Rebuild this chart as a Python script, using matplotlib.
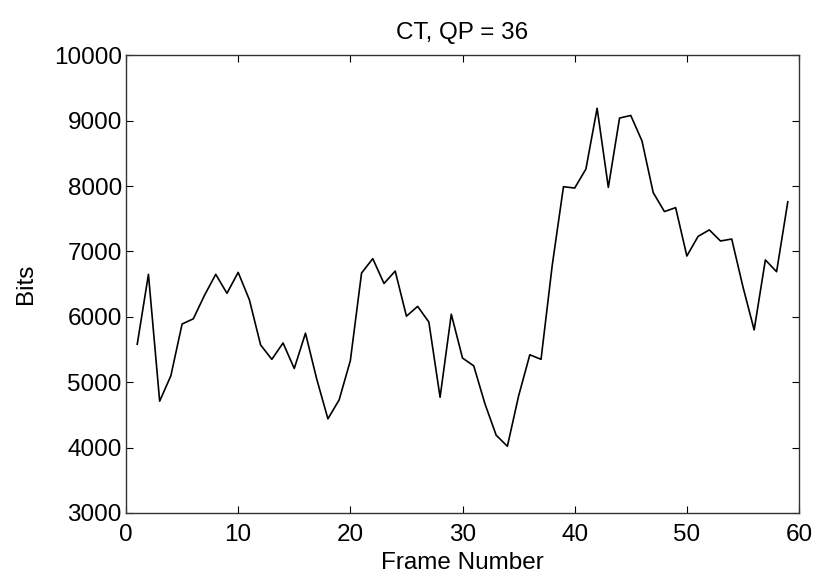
import numpy as np
import matplotlib.pyplot as plt

plt.rcParams['font.family'] = ['Liberation Sans', 'DejaVu Sans']

# Bits per frame (frames 1..59)
frames = list(range(1, 60))
bits = [5580, 6650, 4710, 5100, 5890, 5970, 6330, 6650, 6360, 6680,
        6260, 5570, 5350, 5600, 5210, 5750, 5050, 4440, 4730, 5330,
        6670, 6890, 6510, 6700, 6010, 6160, 5920, 4770, 6040, 5370,
        5250, 4670, 4190, 4020, 4790, 5420, 5350, 6790, 7990, 7970,
        8260, 9190, 7980, 9040, 9080, 8690, 7900, 7610, 7670, 6930,
        7230, 7330, 7160, 7190, 6460, 5800, 6870, 6690, 7760]

xticks = [0, 10, 20, 30, 40, 50, 60]
yticks = [3000, 4000, 5000, 6000, 7000, 8000, 9000, 10000]

fig = plt.figure(figsize=(8.14, 5.79), dpi=100)
ax = fig.add_axes([0.1548, 0.114, 0.8268, 0.7905])

ax.plot(frames, bits, color='black', linewidth=1.2)

ax.set_xlim(0, 60)
ax.set_ylim(3000, 10000)
ax.set_xticks(xticks)
ax.set_yticks(yticks)
ax.tick_params(direction='in', top=True, right=True, length=5, labelsize=17.5)
ax.tick_params(axis='x', pad=8)
ax.tick_params(axis='y', pad=3)
for s in ax.spines.values():
    s.set_linewidth(1.0)
    s.set_color('#333333')

ax.set_title('CT, QP = 36', fontsize=17.5, pad=12)
ax.set_xlabel('Frame Number', fontsize=17.5, labelpad=4)
ax.set_ylabel('Bits', fontsize=17.5, labelpad=12)

fig.savefig('out.png', dpi=100)
